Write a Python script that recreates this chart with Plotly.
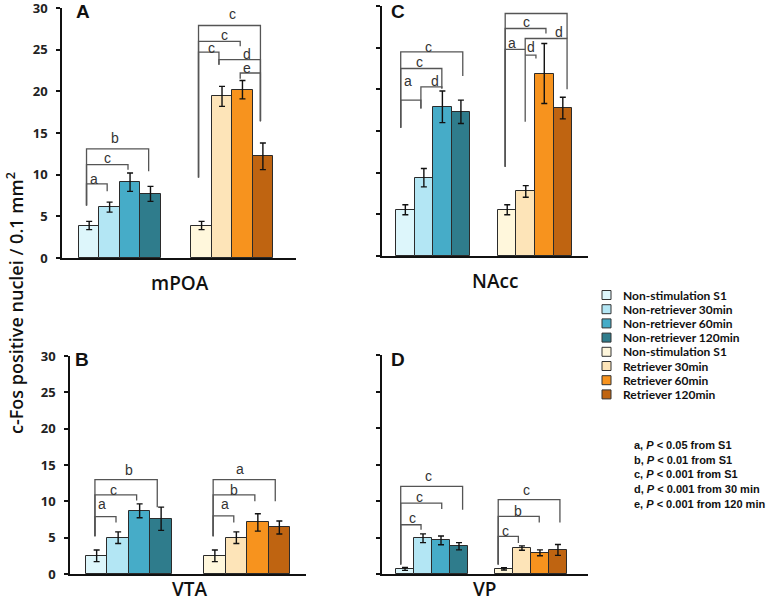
import plotly.graph_objects as go

W, H = 778, 601

# groups / legend
groups = ["Non-stimulation S1", "Non-retriever 30min", "Non-retriever 60min", "Non-retriever 120min",
          "Non-stimulation S1", "Retriever 30min", "Retriever 60min", "Retriever 120min"]
colors = ["#DDF6FB", "#B3E6F4", "#46ACC8", "#2F7C8C",
          "#FFF7DC", "#FDE4B8", "#F7931E", "#BF6411"]
bar_x = [0, 1, 2, 3, 5.5, 6.5, 7.5, 8.5]

# means and SEM
mpoa_mean = [3.9, 6.1, 9.1, 7.7, 3.9, 19.4, 20.2, 12.2]
mpoa_err = [0.5, 0.6, 1.1, 0.9, 0.5, 1.2, 1.1, 1.6]
nacc_mean = [5.55, 9.4, 17.9, 17.3, 5.55, 7.75, 21.9, 17.75]
nacc_err = [0.6, 1.1, 1.9, 1.4, 0.6, 0.7, 3.6, 1.3]
vta_mean = [2.5, 5.0, 8.7, 7.6, 2.5, 5.0, 7.1, 6.4]
vta_err = [0.8, 0.8, 0.95, 1.6, 0.8, 0.8, 1.2, 0.9]
vp_mean = [0.7, 4.9, 4.6, 3.8, 0.7, 3.55, 2.9, 3.3]
vp_err = [0.2, 0.6, 0.6, 0.5, 0.15, 0.3, 0.4, 0.75]

# significance brackets: (x left, x right, y top, left leg end, right leg end, letter, label x, label y)
mpoa_brackets = [
    (-0.13, 0.88, 8.9, 6.3, 8.0, "a", 0.24, 9.5),
    (-0.13, 1.90, 11.2, 6.3, 10.6, "c", 0.88, 12.0),
    (-0.13, 2.91, 13.1, 6.3, 10.4, "b", 1.28, 14.4),
    (5.35, 8.38, 27.9, 9.65, 16.4, "c", 7.0, 29.3),
    (5.35, 7.39, 26.0, 9.65, 25.4, "c", 6.62, 26.7),
    (5.35, 6.35, 24.7, 9.65, 23.2, "c", 6.0, 25.2),
    (6.35, 8.38, 23.8, 23.2, 16.4, "d", 7.72, 24.5),
    (7.39, 8.38, 22.2, 21.5, 16.4, "e", 7.72, 22.8),
]
nacc_brackets = [
    (-0.25, 0.84, 18.7, 15.4, 17.7, "a", 0.13, 21.0),
    (0.84, 1.97, 20.3, 17.7, 20.1, "d", 1.6, 21.0),
    (-0.25, 1.97, 22.5, 15.4, 20.1, "c", 0.76, 23.3),
    (-0.25, 3.1, 24.5, 15.4, 21.6, "c", 1.25, 25.1),
    (5.39, 8.73, 29.1, 10.7, 26.1, "c", 6.92, 30.1),
    (5.39, 7.59, 27.3, 10.7, 26.7, "c", 6.53, 28.1),
    (6.47, 8.73, 26.1, 16.1, 20.0, "d", 8.3, 26.9),
    (5.39, 6.47, 24.8, 10.7, 24.8, "a", 5.75, 25.5),
    (6.47, 7.05, 24.1, 24.1, 23.7, "d", 6.8, 25.1),
]
vta_brackets = [
    (-0.08, 0.9, 7.9, 5.2, 7.1, "a", 0.23, 9.7),
    (-0.08, 1.86, 10.9, 5.2, 10.1, "c", 0.8, 11.6),
    (-0.08, 2.82, 13.0, 5.2, 9.2, "b", 1.51, 14.3),
    (5.42, 6.38, 8.0, 5.2, 7.1, "a", 5.97, 9.7),
    (5.42, 7.36, 10.9, 5.2, 10.0, "b", 6.4, 11.6),
    (5.42, 8.31, 13.0, 5.2, 10.0, "a", 6.66, 14.4),
]
vp_brackets = [
    (-0.24, 0.89, 6.75, 1.3, 6.06, "c", 0.43, 7.7),
    (-0.24, 2.04, 9.7, 1.3, 8.9, "c", 0.83, 10.6),
    (-0.24, 3.2, 12.0, 1.3, 8.8, "c", 1.3, 13.4),
    (5.18, 6.3, 5.15, 1.3, 4.24, "c", 5.61, 5.85),
    (5.18, 7.46, 7.9, 1.3, 7.07, "b", 6.3, 8.6),
    (5.18, 8.61, 10.2, 1.3, 7.07, "c", 6.76, 11.5),
]

p_notes = ["a, <i>P</i> < 0.05 from S1", "b, <i>P</i> < 0.01 from S1", "c, <i>P</i> < 0.001 from S1",
           "d, <i>P</i> < 0.001 from 30 min", "e, <i>P</i> < 0.001 from 120 min"]


def fx(p):
    return p / W


def fy(p):
    return 1 - p / H


# panel: letter, region, data, axis id, x pixel span, y pixel span (y=0, y=30), x range, tick labels,
#        letter position, region label position
panels = [
    ("A", "mPOA", mpoa_mean, mpoa_err, mpoa_brackets, "", (62, 296), (258, 8), (-1.33, 10.12), True, (83, 12), (180, 283)),
    ("C", "NAcc", nacc_mean, nacc_err, nacc_brackets, "2", (382, 588), (256, 6), (-1.26, 9.86), False, (398, 12), (495, 281)),
    ("B", "VTA", vta_mean, vta_err, vta_brackets, "3", (70, 306), (574, 356), (-1.24, 9.74), True, (82, 359), (190, 589)),
    ("D", "VP", vp_mean, vp_err, vp_brackets, "4", (382, 588), (574, 355), (-1.28, 10.17), False, (398, 359), (485, 589)),
]

fig = go.Figure()
shapes = []
annotations = []
layout = {}

for letter, region, mean, err, brackets, ax, xs, ys, xr, show_lab, lpos, rpos in panels:
    xa = "x" + ax
    ya = "y" + ax
    fig.add_trace(go.Bar(
        x=bar_x, y=mean, width=1, xaxis=xa, yaxis=ya, showlegend=False, hoverinfo="skip",
        marker=dict(color=colors, line=dict(color="#2b2b2b", width=1)),
        error_y=dict(type="data", array=err, color="#111111", thickness=1.4, width=3),
    ))
    layout["xaxis" + ax] = dict(
        domain=[fx(xs[0]), fx(xs[1])], range=list(xr), anchor=ya, automargin=False,
        showline=True, linecolor="#111111", linewidth=1.5, ticks="", showticklabels=False,
        showgrid=False, zeroline=False, fixedrange=True,
    )
    layout["yaxis" + ax] = dict(
        domain=[fy(ys[0]), fy(ys[1])], range=[0, 30], anchor=xa, dtick=5, automargin=False,
        showline=True, linecolor="#111111", linewidth=1.5, ticks="outside", ticklen=4,
        tickwidth=1.5, tickcolor="#111111", showticklabels=show_lab, showgrid=False,
        zeroline=False, ticklabelstandoff=6, ticklabeloverflow="allow", fixedrange=True,
        tickfont=dict(family="Open Sans", size=13, color="#222222", weight="bold"),
    )
    for xl, xrt, yt, yl, yr, lab, lx, ly in brackets:
        shapes.append(dict(
            type="path", xref=xa, yref=ya,
            path=f"M {xl},{yl} L {xl},{yt} L {xrt},{yt} L {xrt},{yr}",
            line=dict(color="#555555", width=1.3),
        ))
        annotations.append(dict(
            x=lx, y=ly, xref=xa, yref=ya, text=lab, showarrow=False,
            xanchor="center", yanchor="middle",
            font=dict(family="Liberation Sans", size=14, color="#333333"),
        ))
    annotations.append(dict(
        x=fx(lpos[0]), y=fy(lpos[1]), xref="paper", yref="paper", text=f"<b>{letter}</b>",
        xanchor="center", yanchor="middle", showarrow=False,
        font=dict(family="Liberation Sans", size=19, color="#111111"),
    ))
    annotations.append(dict(
        x=fx(rpos[0]), y=fy(rpos[1]), xref="paper", yref="paper", text=region,
        xanchor="center", yanchor="middle", showarrow=False,
        font=dict(family="Open Sans", size=19, color="#111111", weight=600),
    ))

# y axis title
annotations.append(dict(
    x=fx(15), y=fy(303), xref="paper", yref="paper", text="c-Fos positive nuclei / 0.1 mm<sup>2</sup>",
    xanchor="center", yanchor="middle", textangle=-90, showarrow=False,
    font=dict(family="Open Sans", size=18, color="#111111", weight=600),
))

# legend drawn by hand to match tight spacing
for i, (name, col) in enumerate(zip(groups, colors)):
    yc = 295 + i * 14.2
    shapes.append(dict(
        type="rect", xref="paper", yref="paper",
        x0=fx(602), x1=fx(611), y0=fy(yc + 4.5), y1=fy(yc - 4.5),
        fillcolor=col, line=dict(color="#333333", width=1),
    ))
    annotations.append(dict(
        x=fx(621), y=fy(yc), xref="paper", yref="paper", text=name,
        xanchor="left", yanchor="middle", showarrow=False,
        font=dict(family="Lato", size=12, color="#111111", weight="bold"),
    ))

for i, note in enumerate(p_notes):
    annotations.append(dict(
        x=fx(632), y=fy(445 + i * 14.7), xref="paper", yref="paper", text=note,
        xanchor="left", yanchor="middle", showarrow=False,
        font=dict(family="Liberation Sans", size=11, color="#111111", weight="bold"),
    ))

fig.update_layout(
    width=W, height=H, margin=dict(l=0, r=0, t=0, b=0, autoexpand=False),
    paper_bgcolor="white", plot_bgcolor="white", hovermode=False,
    shapes=shapes, annotations=annotations, showlegend=False, bargap=0,
    **layout,
)

# drop the default page margin so the figure sits at the window's corner
fig.write_html("out.html", config={"displayModeBar": False},
               post_script="document.body.style.margin='0';")
